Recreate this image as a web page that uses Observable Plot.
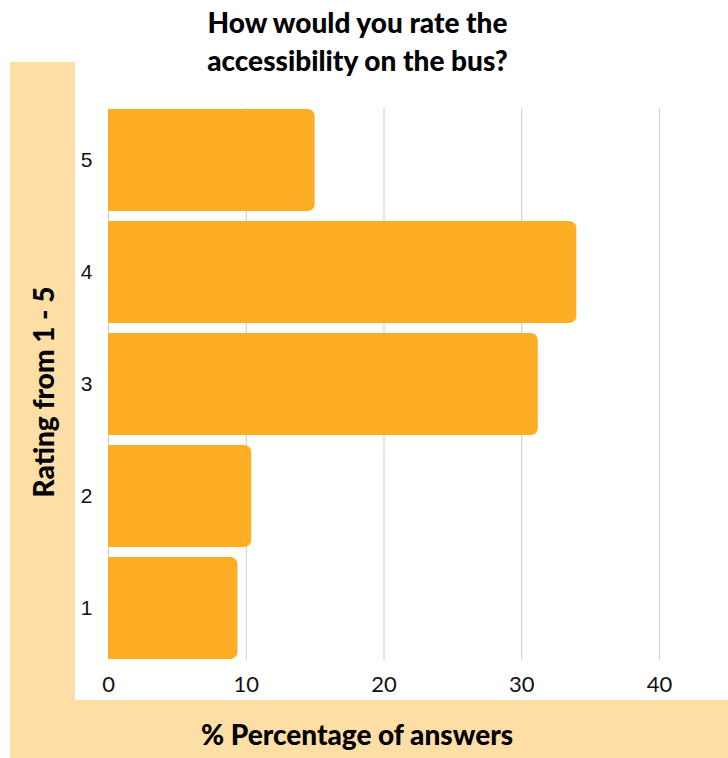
<!DOCTYPE html>
<html>
<head>
<meta charset="utf-8">
<script src="https://cdn.jsdelivr.net/npm/d3@7"></script>
<script src="https://cdn.jsdelivr.net/npm/@observablehq/plot@0.6"></script>
<style>
  html, body { margin: 0; padding: 0; background: #fff; }
  #wrap { position: relative; width: 728px; height: 758px; overflow: hidden; }
  .peach { position: absolute; background: #FDDFA5; }
  #title { position: absolute; left: 0; top: 3px; width: 715px; text-align: center;
    font-family: Lato, sans-serif; font-weight: 900; font-size: 28px; line-height: 38px; color: #000; }
  #xlabel { position: absolute; left: 0; width: 714px; top: 716px; text-align: center;
    font-family: Lato, sans-serif; font-weight: 900; font-size: 28px; line-height: 36px; color: #000; }
  #ylabel { position: absolute; left: 43px; top: 392px; transform: translate(-50%, -50%) rotate(-90deg);
    white-space: nowrap; font-family: Lato, sans-serif; font-weight: 900; font-size: 28px; line-height: 30px; color: #000; }
  #chart { position: absolute; left: 0; top: 0; }
  #chart svg { background: transparent !important; }
</style>
</head>
<body>
<div id="wrap">
  <div class="peach" style="left:10px; top:62px; width:65px; height:696px;"></div>
  <div class="peach" style="left:10px; top:700px; width:718px; height:58px;"></div>
  <div id="chart"></div>
  <div id="title">How would you rate the<br>accessibility on the bus?</div>
  <div id="ylabel">Rating from 1 - 5</div>
  <div id="xlabel">% Percentage of answers</div>
</div>
<script>
const ratings = ["5", "4", "3", "2", "1"];
const percentages = [15.0, 34.0, 31.2, 10.4, 9.4];
const xTicks = [0, 10, 20, 30, 40];

const data = ratings.map((r, i) => ({rating: r, pct: percentages[i]}));

const chart = Plot.plot({
  width: 728,
  height: 758,
  marginLeft: 108,
  marginRight: 69,
  marginTop: 108,
  marginBottom: 98,
  style: {background: "transparent", overflow: "visible"},
  x: {domain: [0, 40], ticks: xTicks, label: null},
  y: {domain: ratings, paddingInner: 0.093, paddingOuter: 0, label: null},
  marks: [
    Plot.gridX(xTicks, {stroke: "#cccccc", strokeOpacity: 1, strokeWidth: 1}),
    Plot.barX(data, {x: "pct", y: "rating", fill: "#FEAE24", rx: 7}),
    Plot.barX(data, {x1: 0, x2: d => Math.min(d.pct, 3), y: "rating", fill: "#FEAE24"}),
    Plot.axisX(xTicks, {tickSize: 0, tickPadding: 16, fontSize: 22, fill: "#111", label: null,
      fontFamily: "Lato, sans-serif"}),
    Plot.axisY(ratings, {tickSize: 0, tickPadding: 16, fontSize: 21, fill: "#111", label: null,
      fontFamily: "Liberation Sans, Arial, sans-serif"})
  ]
});
document.getElementById("chart").appendChild(chart);
</script>
</body>
</html>
